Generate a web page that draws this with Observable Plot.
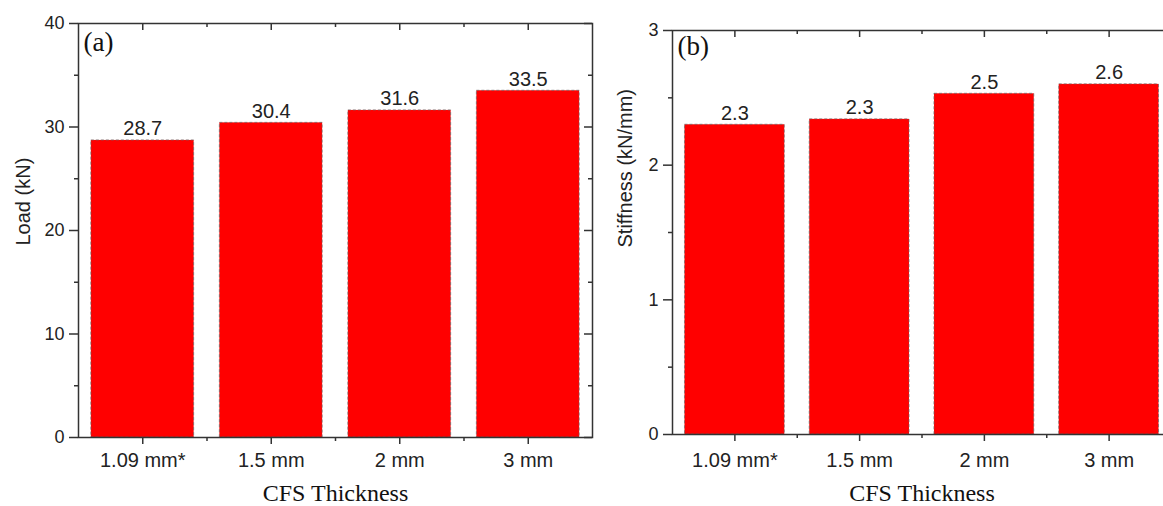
<!DOCTYPE html>
<html>
<head>
<meta charset="utf-8">
<script src="https://cdn.jsdelivr.net/npm/d3@7"></script>
<script src="https://cdn.jsdelivr.net/npm/@observablehq/plot@0.6"></script>
<style>
  html, body { margin: 0; padding: 0; background: #fff; }
  #wrap { position: relative; width: 1163px; height: 506px; overflow: hidden; background: #fff; }
  #wrap svg { position: absolute; top: 0; }
</style>
</head>
<body>
<div id="wrap"></div>
<script>
// ---- data ----
const categories = ["1.09 mm*", "1.5 mm", "2 mm", "3 mm"];
const loadValues = [28.7, 30.4, 31.6, 33.5];
const loadLabels = ["28.7", "30.4", "31.6", "33.5"];
const stiffValues = [2.30, 2.34, 2.53, 2.60];
const stiffLabels = ["2.3", "2.3", "2.5", "2.6"];
const loadTicks = [0, 10, 20, 30, 40];
const loadMinorTicks = [5, 15, 25, 35];
const stiffTicks = [0, 1, 2, 3];
const stiffMinorTicks = [0.5, 1.5, 2.5];
const xTitle = "CFS Thickness";

const SANS = "'Liberation Sans', Arial, Helvetica, sans-serif";
const SERIF = "'Liberation Serif', 'Times New Roman', serif";
const AX = "#333";

function panel(o) {
  const data = o.values.map((v, i) => ({i, value: v, label: o.labels[i]}));
  const majorX = categories.map((_, i) => i);
  const minorX = categories.slice(1).map((_, i) => i + 0.5);
  const plotW = o.width - o.ml - o.mr;
  const plotH = o.height - o.mt - o.mb;
  return Plot.plot({
    width: o.width,
    height: o.height,
    marginLeft: o.ml, marginRight: o.mr, marginTop: o.mt, marginBottom: o.mb,
    style: {fontFamily: SANS, color: AX, background: "transparent", maxWidth: "none", overflow: "visible"},
    x: {type: "linear", domain: [-0.5, categories.length - 0.5], axis: null},
    y: {domain: o.yDomain, axis: null},
    marks: [
      Plot.rectY(data, {x1: d => d.i - 0.4, x2: d => d.i + 0.4, y: "value",
        fill: "#ff0000", stroke: "#666", strokeWidth: 0.7, strokeDasharray: "3,2"}),
      Plot.frame({stroke: AX, strokeWidth: 1.5}),
      // left axis
      Plot.axisY({ticks: o.yTicks, tickFormat: d => String(d), tickSize: 9, tickPadding: 5, fontSize: 18, label: null, strokeWidth: 1.5, fill: "#222"}),
      Plot.axisY({ticks: o.yMinor, tickSize: 4, tickFormat: () => "", label: null, strokeWidth: 1.5}),
      // right axis (inward ticks)
      Plot.tickY(o.yTicks, {y: d => d, insetLeft: plotW - 8, stroke: AX, strokeWidth: 1.5}),
      Plot.tickY(o.yMinor, {y: d => d, insetLeft: plotW - 4, stroke: AX, strokeWidth: 1.5}),
      // bottom axis
      Plot.axisX({ticks: majorX, tickFormat: i => categories[i], tickSize: 7, tickPadding: o.xPad, fontSize: 20, label: null, strokeWidth: 1.5, fill: "#222"}),
      Plot.axisX({ticks: minorX, tickSize: 4, tickFormat: () => "", label: null, strokeWidth: 1.5}),
      // top axis (inward ticks)
      Plot.tickX(majorX, {x: d => d, insetBottom: plotH - 7, stroke: AX, strokeWidth: 1.5}),
      Plot.tickX(minorX, {x: d => d, insetBottom: plotH - 4, stroke: AX, strokeWidth: 1.5}),
      // value labels
      Plot.text(data, {x: "i", y: "value", text: "label", dy: -5, lineAnchor: "bottom", fontSize: 20, fill: "#222"}),
      // panel tag
      Plot.text([o.tag], {frameAnchor: "top-left", dx: 5, dy: o.tagDy, textAnchor: "start", lineAnchor: "top",
        fontFamily: SERIF, fontSize: 27, fill: "#111"}),
      // axis titles
      Plot.text([o.yLabel], {frameAnchor: "left", rotate: -90, dx: o.yLabelDx, dy: 15, fontSize: 20, fill: "#222"}),
      Plot.text([xTitle], {frameAnchor: "bottom", dy: o.xTitleDy, lineAnchor: "bottom", fontFamily: SERIF, fontSize: 24, fill: "#111"})
    ]
  });
}

const wrap = document.getElementById("wrap");

const a = panel({
  values: loadValues, labels: loadLabels, yDomain: [0, 40], yTicks: loadTicks, yMinor: loadMinorTicks,
  yLabel: "Load (kN)", tag: "(a)", width: 600, height: 506, ml: 78, mr: 8, mt: 23, mb: 69,
  xPad: 8, tagDy: 8, yLabelDx: -55, xTitleDy: 63
});
a.style.left = "0px";
wrap.appendChild(a);

const b = panel({
  values: stiffValues, labels: stiffLabels, yDomain: [0, 3], yTicks: stiffTicks, yMinor: stiffMinorTicks,
  yLabel: "Stiffness (kN/mm)", tag: "(b)", width: 600, height: 506, ml: 92, mr: 9, mt: 30, mb: 72,
  xPad: 11, tagDy: 5, yLabelDx: -47, xTitleDy: 66
});
b.style.left = "580px";
wrap.appendChild(b);
</script>
</body>
</html>
